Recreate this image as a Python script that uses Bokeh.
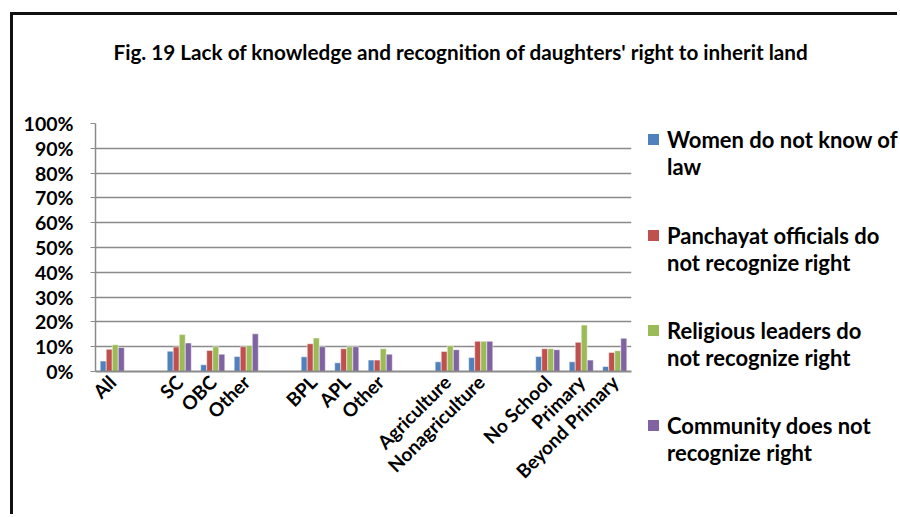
from bokeh.plotting import figure
from bokeh.layouts import column, row
from bokeh.models import FixedTicker, NumeralTickFormatter, Range1d, Label, Div
from bokeh.embed import file_html
from bokeh.resources import INLINE

title_text = "Fig. 19 Lack of knowledge and recognition of daughters' right to inherit land"
categories = ["All", "", "SC", "OBC", "Other", "", "BPL", "APL", "Other", "",
              "Agriculture", "Nonagriculture", "", "No School", "Primary", "Beyond Primary"]
series_names = [["Women do not know of", "law"],
                ["Panchayat officials do", "not recognize right"],
                ["Religious leaders do", "not recognize right"],
                ["Community does not", "recognize right"]]
women = [0.042, None, 0.082, 0.027, 0.060, None, 0.059, 0.035, 0.046, None, 0.039, 0.056, None, 0.060, 0.039, 0.020]
panchayat = [0.090, None, 0.099, 0.085, 0.100, None, 0.112, 0.092, 0.046, None, 0.081, 0.122, None, 0.092, 0.118, 0.077]
religious = [0.108, None, 0.149, 0.100, 0.105, None, 0.135, 0.100, 0.092, None, 0.104, 0.122, None, 0.092, 0.187, 0.084]
community = [0.097, None, 0.115, 0.070, 0.152, None, 0.100, 0.100, 0.070, None, 0.088, 0.122, None, 0.088, 0.046, 0.134]
colors = ["#4F81BD", "#C0504D", "#9BBB59", "#8064A2"]
y_ticks = [0, 0.1, 0.2, 0.3, 0.4, 0.5, 0.6, 0.7, 0.8, 0.9, 1.0]

FONT = "Lato"
TOTAL_W = 884
TITLE_H = 93
P_W, P_H = 619, 406

# ---- title strip ----
tfig = figure(width=TOTAL_W, height=TITLE_H, output_backend="svg", toolbar_location=None,
              x_axis_type=None, y_axis_type=None, x_range=Range1d(0, 1), y_range=Range1d(0, 1),
              min_border=0, title=None)
tfig.outline_line_color = None
tfig.grid.visible = False
tfig.add_layout(Label(x=100, y=TITLE_H - 36, x_units="screen", y_units="screen", text=title_text,
                      text_align="left", text_baseline="alphabetic", text_font=FONT,
                      text_font_style="bold", text_font_size="20.7px", text_color="black"))

# ---- chart ----
p = figure(width=P_W, height=P_H, output_backend="svg", toolbar_location=None, title=None,
           x_range=Range1d(-0.5, len(categories) - 0.5), y_range=Range1d(0, 1),
           min_border_left=82, min_border_right=1, min_border_top=15, min_border_bottom=P_H - 263)
p.outline_line_color = None

bar_w = 0.18
offsets = [-0.27, -0.09, 0.09, 0.27]
for vals, off, col in zip([women, panchayat, religious, community], offsets, colors):
    xs = [i + off for i, v in enumerate(vals) if v is not None]
    ys = [v for v in vals if v is not None]
    p.vbar(x=xs, top=ys, width=bar_w, fill_color=col, line_color="white", line_alpha=0.5, line_width=1)

p.xgrid.visible = False
p.ygrid.ticker = FixedTicker(ticks=y_ticks)
p.ygrid.grid_line_color = "#8a8a8a"
p.ygrid.grid_line_width = 1.5

p.yaxis.ticker = FixedTicker(ticks=y_ticks)
p.yaxis.formatter = NumeralTickFormatter(format="0%")
p.yaxis.axis_line_color = "#8a8a8a"
p.yaxis.axis_line_width = 1.5
p.yaxis.major_tick_line_color = "#8a8a8a"
p.yaxis.major_tick_out = 5
p.yaxis.major_tick_in = 0
p.yaxis.minor_tick_line_color = None
p.yaxis.major_label_text_font = FONT
p.yaxis.major_label_text_font_style = "bold"
p.yaxis.major_label_text_font_size = "19.5px"
p.yaxis.major_label_text_color = "black"
p.yaxis.major_label_standoff = 17

tick_pos = [i for i, c in enumerate(categories) if c]
p.xaxis.ticker = FixedTicker(ticks=tick_pos)
p.xaxis.major_label_overrides = {i: categories[i] for i in tick_pos}
p.xaxis.major_label_orientation = 0.785398
p.xaxis.axis_line_color = "#8a8a8a"
p.xaxis.axis_line_width = 2
p.xaxis.major_tick_line_color = None
p.xaxis.minor_tick_line_color = None
p.xaxis.major_label_text_font = FONT
p.xaxis.major_label_text_font_style = "bold"
p.xaxis.major_label_text_font_size = "19px"
p.xaxis.major_label_text_color = "black"
p.xaxis.major_label_standoff = 1

# ---- legend panel (HTML) ----
parts = []
for k, (lines, col) in enumerate(zip(series_names, colors)):
    top = round(18 + k * 95.5)
    parts.append(f'<div style="position:absolute;left:16px;top:{top + 8}px;width:11px;height:11px;'
                 f'background:{col};"></div>')
    parts.append(f'<div style="position:absolute;left:35px;top:{top}px;white-space:nowrap;">'
                 f'{lines[0]}<br>{lines[1]}</div>')
legend_html = ('<div style="position:relative;width:265px;height:400px;font-family:Lato;'
               'font-weight:bold;font-size:22px;line-height:27px;color:black;">'
               + "".join(parts) + '</div>')
legend_div = Div(text=legend_html, width=TOTAL_W - P_W, height=P_H, margin=0)

layout = column(tfig, row(p, legend_div))
layout.styles = {"border-left": "3px solid #111", "border-top": "3px solid #111",
                 "margin-left": "10px", "margin-top": "12px"}

open("out.html", "w").write(file_html(layout, INLINE))
